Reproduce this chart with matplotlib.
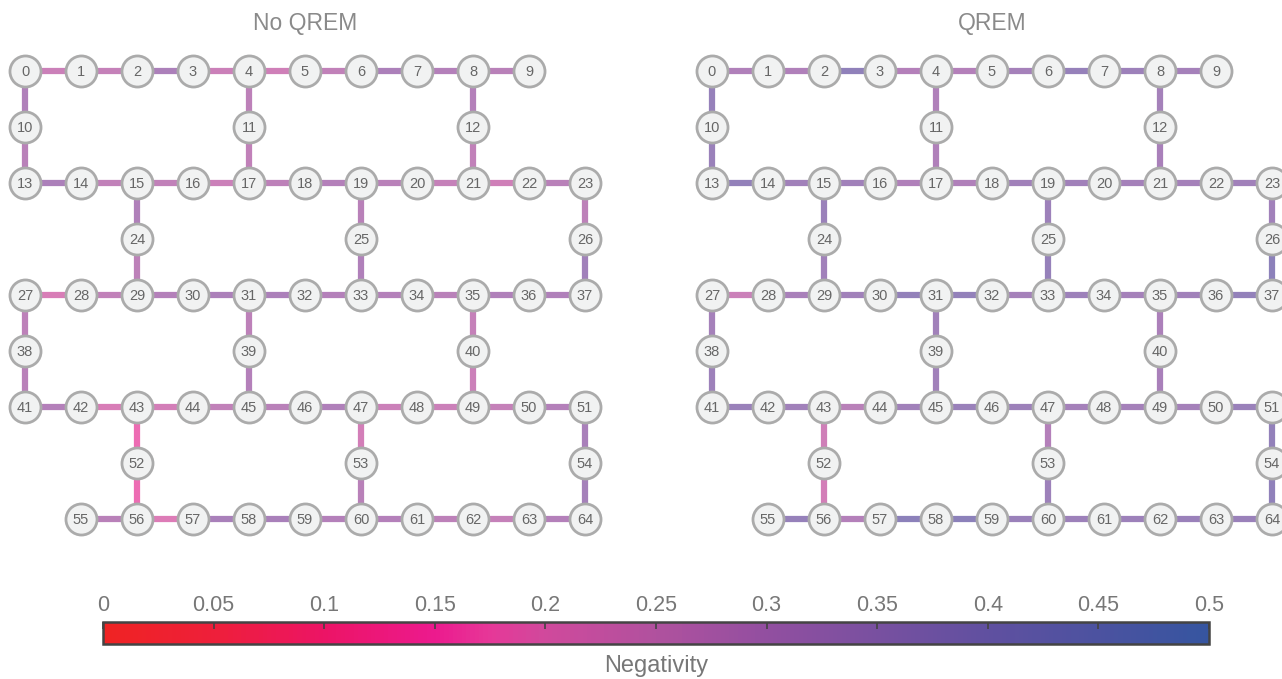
import numpy as np
import matplotlib
matplotlib.use("Agg")
import matplotlib.pyplot as plt
from matplotlib.colors import LinearSegmentedColormap, Normalize
from matplotlib.cm import ScalarMappable

plt.rcParams["font.family"] = ["Liberation Sans", "DejaVu Sans"]

# heavy-hex layout: qubit -> (column, row)
QUBIT_COLS = (
    list(range(0, 10)) + [0, 4, 8]
    + list(range(0, 11)) + [2, 6, 10]
    + list(range(0, 11)) + [0, 4, 8]
    + list(range(0, 11)) + [2, 6, 10]
    + list(range(1, 11))
)
QUBIT_ROWS = (
    [0] * 10 + [1] * 3 + [2] * 11 + [3] * 3 + [4] * 11
    + [5] * 3 + [6] * 11 + [7] * 3 + [8] * 10
)

COUPLERS = [
    (0, 1), (1, 2), (2, 3), (3, 4), (4, 5), (5, 6), (6, 7), (7, 8), (8, 9),
    (0, 10), (10, 13), (4, 11), (11, 17), (8, 12), (12, 21),
    (13, 14), (14, 15), (15, 16), (16, 17), (17, 18), (18, 19), (19, 20),
    (20, 21), (21, 22), (22, 23),
    (15, 24), (24, 29), (19, 25), (25, 33), (23, 26), (26, 37),
    (27, 28), (28, 29), (29, 30), (30, 31), (31, 32), (32, 33), (33, 34),
    (34, 35), (35, 36), (36, 37),
    (27, 38), (38, 41), (31, 39), (39, 45), (35, 40), (40, 49),
    (41, 42), (42, 43), (43, 44), (44, 45), (45, 46), (46, 47), (47, 48),
    (48, 49), (49, 50), (50, 51),
    (43, 52), (52, 56), (47, 53), (53, 60), (51, 54), (54, 64),
    (55, 56), (56, 57), (57, 58), (58, 59), (59, 60), (60, 61), (61, 62),
    (62, 63), (63, 64),
]

NEG_RAW = [
    0.24, 0.25, 0.31, 0.24, 0.23, 0.26, 0.31, 0.29, 0.28,
    0.30, 0.28, 0.27, 0.26, 0.29, 0.26,
    0.31, 0.26, 0.26, 0.24, 0.27, 0.29, 0.28, 0.25, 0.23, 0.28,
    0.30, 0.27, 0.28, 0.30, 0.27, 0.34,
    0.21, 0.26, 0.29, 0.31, 0.31, 0.29, 0.29, 0.28, 0.30, 0.30,
    0.27, 0.28, 0.27, 0.29, 0.25, 0.24,
    0.29, 0.21, 0.22, 0.26, 0.28, 0.30, 0.24, 0.24, 0.25, 0.29,
    0.17, 0.17, 0.22, 0.28, 0.32, 0.33,
    0.28, 0.20, 0.32, 0.32, 0.29, 0.29, 0.27, 0.25, 0.29,
]

NEG_QREM = [
    0.30, 0.30, 0.39, 0.29, 0.29, 0.33, 0.37, 0.35, 0.33,
    0.37, 0.36, 0.30, 0.30, 0.33, 0.32,
    0.38, 0.34, 0.34, 0.30, 0.30, 0.34, 0.34, 0.33, 0.33, 0.34,
    0.36, 0.34, 0.35, 0.37, 0.34, 0.40,
    0.24, 0.32, 0.34, 0.38, 0.38, 0.33, 0.35, 0.33, 0.34, 0.38,
    0.33, 0.35, 0.34, 0.34, 0.31, 0.32,
    0.36, 0.34, 0.28, 0.34, 0.36, 0.35, 0.33, 0.33, 0.33, 0.36,
    0.23, 0.22, 0.29, 0.35, 0.38, 0.39,
    0.37, 0.29, 0.40, 0.40, 0.36, 0.35, 0.35, 0.36, 0.36,
]

PANEL_TITLES = ["No QREM", "QREM"]
CBAR_TICKS = [0, 0.05, 0.1, 0.15, 0.2, 0.25, 0.3, 0.35, 0.4, 0.45, 0.5]

W, H = 1282, 679
SPACING = 56.0  # pixels between neighbouring qubits
VMAX = 0.5

# colour stops given in negativity units
CMAP_STOPS = [
    (0.0, "#ef2323"), (0.05, "#ee1f3a"), (0.1, "#ec1466"),
    (0.15, "#ec1a8e"), (0.175, "#e63898"), (0.2, "#d0499c"),
    (0.25, "#b0519e"), (0.3, "#924fa0"), (0.35, "#7850a0"),
    (0.4, "#6050a0"), (0.45, "#4c52a0"), (0.5, "#3655a0"),
]
cmap = LinearSegmentedColormap.from_list(
    "negativity", [(v / VMAX, c) for v, c in CMAP_STOPS])
norm = Normalize(0, VMAX)

fig = plt.figure(figsize=(W / 100, H / 100), dpi=100)


def panel_axes(px_left, px_right, px_top, px_bottom, origin_x, origin_y):
    """Axes whose data units are qubit grid steps, origin at qubit 0."""
    ax = fig.add_axes([px_left / W, 1 - px_bottom / H,
                       (px_right - px_left) / W, (px_bottom - px_top) / H])
    ax.set_xlim((px_left - origin_x) / SPACING, (px_right - origin_x) / SPACING)
    ax.set_ylim((px_bottom - origin_y) / SPACING, (px_top - origin_y) / SPACING)
    ax.axis("off")
    return ax


def draw_lattice(ax, values, title):
    cols = np.array(QUBIT_COLS, dtype=float)
    rows = np.array(QUBIT_ROWS, dtype=float)
    for (a, b), v in zip(COUPLERS, values):
        ax.plot([cols[a], cols[b]], [rows[a], rows[b]], color=cmap(norm(v)),
                alpha=0.72, lw=4.5, solid_capstyle="butt", zorder=1)
    ax.scatter(cols, rows, s=500, facecolor="#f1f2f2", edgecolor="#ababab",
               linewidths=2.0, zorder=2)
    for q, (c, r) in enumerate(zip(cols, rows)):
        ax.text(c, r + 0.01, str(q), ha="center", va="center", fontsize=10.5,
                color="#666666", zorder=3)
    ax.text(5, -0.84, title, ha="center", va="center", fontsize=16.5,
            color="#8a8a8a")


ax_left = panel_axes(0, 641, 0, 560, 25, 71)
ax_right = panel_axes(641, 1282, 0, 560, 712, 71)
draw_lattice(ax_left, NEG_RAW, PANEL_TITLES[0])
draw_lattice(ax_right, NEG_QREM, PANEL_TITLES[1])

# colour bar
cax = fig.add_axes([103 / W, 1 - 644 / H, 1106 / W, 22 / H])
cb = fig.colorbar(ScalarMappable(norm=norm, cmap=cmap), cax=cax,
                  orientation="horizontal")
cb.set_ticks(CBAR_TICKS)
cb.set_ticklabels([f"{t:g}" for t in CBAR_TICKS])
cax.xaxis.set_ticks_position("top")
cax.tick_params(axis="x", direction="in", length=5, width=1.2,
                color="#444444", labelsize=15.5, labelcolor="#777777", pad=4)
cb.outline.set_edgecolor("#444444")
cb.outline.set_linewidth(1.8)
cax.xaxis.set_label_position("bottom")
cax.set_xlabel("Negativity", fontsize=17, color="#777777", labelpad=8)

fig.savefig("out.png", dpi=100)
